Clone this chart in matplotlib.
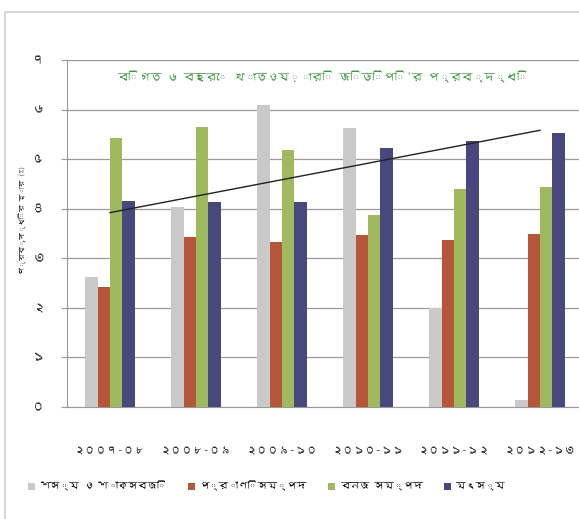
import matplotlib
matplotlib.use("Agg")
import matplotlib.pyplot as plt
from matplotlib import font_manager
from matplotlib.patches import Rectangle
import numpy as np

years = ["২০০৭-০৮", "২০০৮-০৯", "২০০৯-১০", "২০১০-১১", "২০১১-১২", "২০১২-১৩"]
series_names = ["শস্য ও শাকসবজি", "প্রাণিসম্পদ", "বনজ সম্পদ", "মৎস্য"]
crops = [2.62, 4.03, 6.09, 5.62, 1.99, 0.14]
livestock = [2.42, 3.43, 3.33, 3.47, 3.37, 3.50]
forestry = [5.42, 5.65, 5.18, 3.87, 4.39, 4.44]
fisheries = [4.15, 4.13, 4.13, 5.22, 5.36, 5.52]
ytick_labels = ["০", "১", "২", "৩", "৪", "৫", "৬", "৭"]
title = "বিগত ৬ বছরে খাতওয়ারি জিডিপি'র প্রবৃদ্ধি"
ylabel = "প্রবৃদ্ধির হার (%)"

colors = ["#c9c9c9", "#b5553a", "#9fba5e", "#48487f"]


def bengali_font():
    # look for any installed font that actually has Bengali glyphs
    try:
        from fontTools.ttLib import TTFont
    except ImportError:
        return None
    for path in font_manager.findSystemFonts():
        try:
            cmap = TTFont(path, fontNumber=0, lazy=True).getBestCmap()
        except Exception:
            continue
        if cmap and 0x09AC in cmap:
            font_manager.fontManager.addfont(path)
            return font_manager.FontProperties(fname=path).get_name()
    return None


bn = bengali_font()
fams = ([bn] if bn else []) + ["DejaVu Sans"]
plt.rcParams["font.family"] = fams
plt.rcParams["font.weight"] = "bold"

fig = plt.figure(figsize=(5.79, 5.19), dpi=100)
fig.patches.append(Rectangle((5 / 579, -0.05), 1.1, 1 - 12 / 519 + 0.05,
                             transform=fig.transFigure, fill=False,
                             edgecolor="#cfcfcf", linewidth=1.2))

ax = fig.add_axes([67 / 579, 1 - 407 / 519, 516 / 579, 347 / 519])
x = np.arange(len(years))
w = 0.145
for i, (vals, c) in enumerate(zip([crops, livestock, forestry, fisheries], colors)):
    ax.bar(x + (i - 1.5) * w, vals, w, color=c, label=series_names[i], zorder=3)

# linear trend of the fisheries series
k, b = np.polyfit(x, fisheries, 1)
ax.plot([x[0], x[-1]], [k * x[0] + b, k * x[-1] + b], color="#222222", linewidth=1, zorder=4)

ax.set_xlim(-0.5, 5.5)
ax.set_ylim(0, 7)
ax.set_yticks(range(8))
ax.set_yticklabels(ytick_labels, fontsize=9, color="#333333")
ax.set_xticks(x)
ax.set_xticklabels(years, fontsize=8, color="#333333")
ax.tick_params(axis="x", length=0, pad=28)
ax.tick_params(axis="y", length=4, color="#999999", pad=12)
ax.yaxis.grid(True, color="#9a9a9a", linewidth=0.9, zorder=0)
for s in ["top", "right"]:
    ax.spines[s].set_visible(False)
ax.spines["left"].set_color("#999999")
ax.spines["bottom"].set_color("#999999")
ax.axhline(7, color="#dddddd", linewidth=1, zorder=1)

ax.text(0.495, 0.95, title, transform=ax.transAxes, ha="center", va="center",
        fontsize=8, color="#3f9a3f")
fig.text(22 / 579, 1 - 220 / 519, ylabel, rotation=90, ha="center", va="center",
         fontsize=5, color="#222222")

fig.legend(loc="center", bbox_to_anchor=(0.46, 1 - 486 / 519), ncol=4, frameon=False,
           fontsize=7, handlelength=0.7, handleheight=0.7, columnspacing=2.2,
           handletextpad=0.5)

fig.savefig("out.png", dpi=100)
